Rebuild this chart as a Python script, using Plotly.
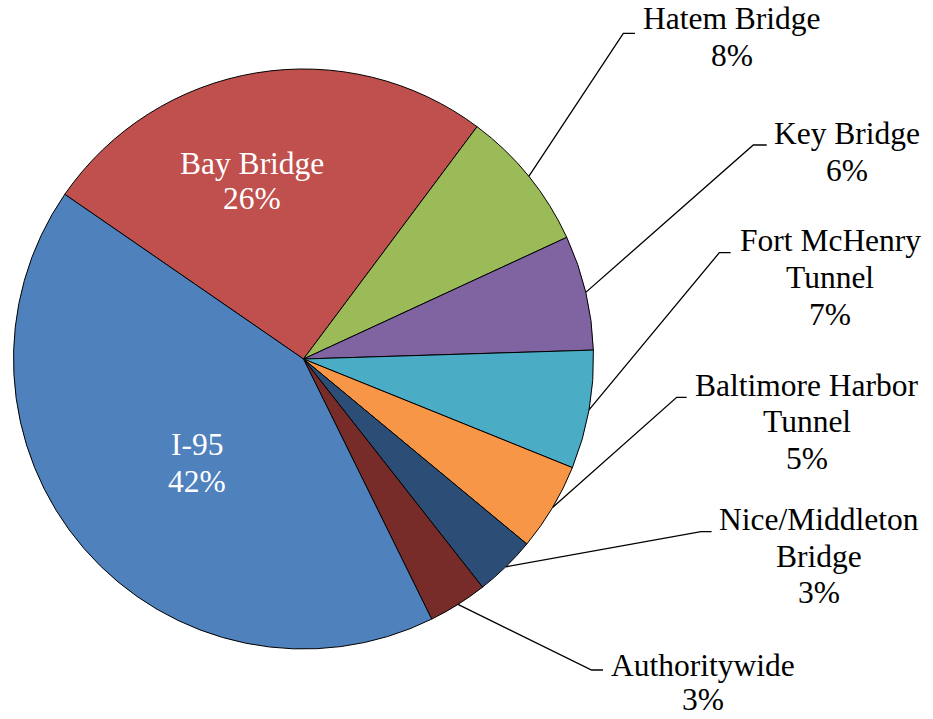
import math
import plotly.graph_objects as go

# ---- data ----
categories = ["Bay Bridge", "Hatem Bridge", "Key Bridge", "Fort McHenry Tunnel",
              "Baltimore Harbor Tunnel", "Nice/Middleton Bridge", "Authoritywide", "I-95"]
label_lines = [["Bay Bridge"], ["Hatem Bridge"], ["Key Bridge"], ["Fort McHenry", "Tunnel"],
               ["Baltimore Harbor", "Tunnel"], ["Nice/Middleton", "Bridge"], ["Authoritywide"], ["I-95"]]
shares = [25.6, 7.9, 6.4, 6.6, 4.9, 3.4, 3.3, 41.9]
colors = ["#C0504D", "#9BBB59", "#8064A2", "#4BACC6", "#F79646", "#2C4D75", "#772C2A", "#4F81BD"]

# ---- layout (pixel geometry) ----
W, H = 933, 719
CX, CY, R = 303.5, 359.0, 290.0
START = -55.4
FS = 31.5
FONT = "Liberation Serif, Times New Roman, serif"

# label placement: (center x, first baseline y, line gap, inside?, corner x, corner y, stub end x)
placement = [
    (252.0, 174.0, 35.5, True, None, None, None),
    (732.0, 29.0, 36.7, False, 623.3, 33.3, 635.0),
    (847.0, 144.0, 36.7, False, 753.3, 145.0, 766.7),
    (830.0, 251.4, 36.7, False, 719.3, 252.7, 730.7),
    (807.0, 395.7, 36.7, False, 676.7, 397.3, 686.7),
    (819.0, 530.0, 36.7, False, 701.0, 531.7, 711.6),
    (703.0, 676.0, 34.5, False, 591.6, 670.0, 603.0),
    (197.0, 455.0, 36.7, True, None, None, None),
]

def px(x):
    return x / W

def py(y):
    return 1 - y / H

fig = go.Figure(go.Pie(
    labels=categories, values=shares, sort=False, direction="clockwise",
    rotation=START, textinfo="none", hoverinfo="label+percent",
    marker=dict(colors=colors, line=dict(color="black", width=1)),
    domain=dict(x=[px(CX - R), px(CX + R)], y=[py(CY + R), py(CY - R)]),
))

total = sum(shares)
cum = 0.0
annotations = []
shapes = []
for name_lines, v, pl in zip(label_lines, shares, placement):
    mid = math.radians(START + (cum + v / 2) / total * 360.0)
    cum += v
    x0, b0, gap, inside, kx, ky, sx = pl
    pct = f"{v / total * 100:.0f}%"
    lines = name_lines + [pct]
    color = "white" if inside else "black"
    for i, t in enumerate(lines):
        yb = b0 + i * gap
        annotations.append(dict(
            x=px(x0), y=py(yb - 0.3375 * FS), xref="paper", yref="paper",
            text=t, showarrow=False, xanchor="center", yanchor="middle",
            font=dict(family=FONT, size=FS, color=color),
        ))
    if not inside:
        ex = CX + R * math.sin(mid)
        ey = CY - R * math.cos(mid)
        path = f"M {px(ex)} {py(ey)} L {px(kx)} {py(ky)} L {px(sx)} {py(ky)}"
        shapes.append(dict(type="path", xref="paper", yref="paper", path=path,
                           line=dict(color="black", width=1.3)))

fig.update_layout(
    width=W, height=H, margin=dict(l=0, r=0, t=0, b=0),
    paper_bgcolor="white", plot_bgcolor="white", showlegend=False,
    annotations=annotations, shapes=shapes,
)
fig.write_html("out.html", config={"displayModeBar": False},
               post_script="document.body.style.margin='0px';")
